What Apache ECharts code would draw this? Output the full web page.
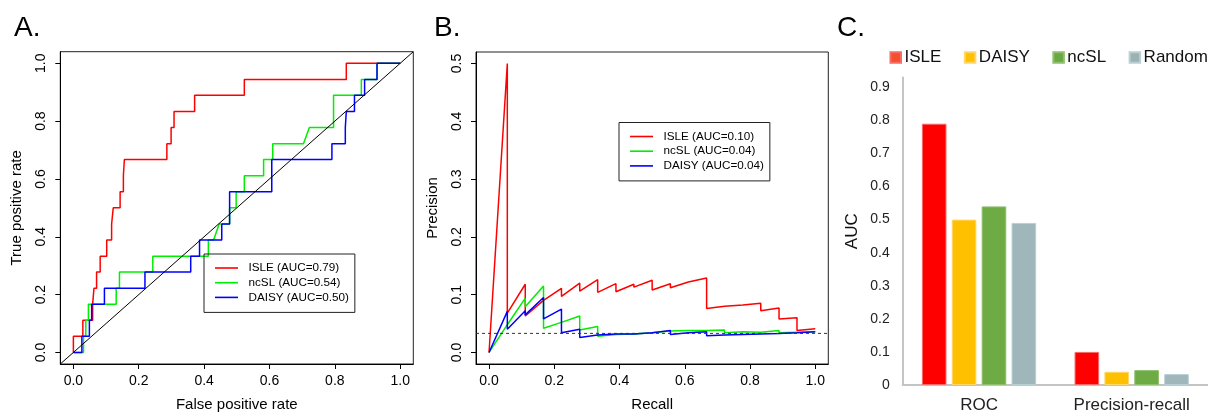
<!DOCTYPE html>
<html><head><meta charset="utf-8">
<script src="https://cdn.jsdelivr.net/npm/echarts@6/dist/echarts.min.js"></script>
<style>html,body{margin:0;padding:0;background:#fff}#c{width:1208px;height:417px}</style>
</head><body><div id="c"></div>
<script>
const FONT = '"Liberation Sans", Arial, Helvetica, sans-serif';

// ---- Panel A: ROC curve vertices (false positive rate, true positive rate)
const rocIsleFpr = [0,0,0.029,0.029,0.059,0.059,0.063,0.063,0.071,0.071,0.082,0.082,0.102,0.102,0.117,0.117,0.122,0.122,0.143,0.143,0.153,0.153,0.156,0.156,0.286,0.286,0.299,0.299,0.308,0.308,0.371,0.371,0.523,0.523,0.835,0.835,1];
const rocIsleTpr = [0,0.056,0.056,0.111,0.111,0.167,0.167,0.222,0.222,0.278,0.278,0.333,0.333,0.389,0.389,0.444,0.444,0.5,0.5,0.556,0.556,0.611,0.611,0.667,0.667,0.722,0.722,0.778,0.778,0.833,0.833,0.889,0.889,0.944,0.944,1,1];
const rocNcslFpr = [0,0.031,0.031,0.038,0.038,0.046,0.046,0.131,0.131,0.141,0.141,0.243,0.243,0.413,0.413,0.429,0.446,0.478,0.478,0.498,0.498,0.523,0.523,0.582,0.582,0.610,0.610,0.704,0.722,0.796,0.796,0.881,0.881,0.929,0.929,1];
const rocNcslTpr = [0,0,0.056,0.056,0.111,0.111,0.167,0.167,0.222,0.222,0.278,0.278,0.333,0.333,0.389,0.389,0.444,0.444,0.5,0.5,0.556,0.556,0.611,0.611,0.667,0.667,0.722,0.722,0.778,0.778,0.889,0.889,0.944,0.944,1,1];
const rocDaisyFpr = [0,0.026,0.026,0.049,0.049,0.056,0.056,0.095,0.095,0.219,0.219,0.359,0.359,0.386,0.386,0.454,0.454,0.478,0.478,0.607,0.607,0.791,0.791,0.832,0.832,0.835,0.835,0.860,0.860,0.891,0.891,0.929,0.929,1];
const rocDaisyTpr = [0,0,0.056,0.056,0.111,0.111,0.167,0.167,0.222,0.222,0.278,0.278,0.333,0.333,0.389,0.389,0.444,0.444,0.556,0.556,0.667,0.667,0.722,0.722,0.778,0.778,0.833,0.833,0.889,0.889,0.944,0.944,1,1];
const rocChance = [-0.04, 1.04];
const rocNames = ['ISLE (AUC=0.79)', 'ncSL (AUC=0.54)', 'DAISY (AUC=0.50)'];

// ---- Panel B: precision-recall vertices (recall, precision)
const prIsleRec = [0,0.056,0.056,0.111,0.111,0.167,0.222,0.222,0.278,0.278,0.333,0.333,0.389,0.389,0.444,0.444,0.5,0.5,0.556,0.556,0.611,0.611,0.667,0.667,0.722,0.722,0.778,0.778,0.833,0.833,0.889,0.889,0.944,0.944,1];
const prIslePrec = [0,0.5,0.068,0.118,0.063,0.090,0.111,0.097,0.120,0.106,0.126,0.104,0.119,0.105,0.118,0.113,0.125,0.108,0.119,0.112,0.122,0.119,0.129,0.076,0.080,0.078,0.082,0.080,0.085,0.072,0.077,0.058,0.060,0.038,0.041];
const prNcslRec = [0,0.056,0.111,0.111,0.167,0.167,0.222,0.278,0.278,0.333,0.333,0.389,0.444,0.5,0.556,0.556,0.611,0.611,0.667,0.667,0.722,0.722,0.778,0.778,0.833,0.889,0.889,0.944,1];
const prNcslPrec = [0,0.048,0.094,0.079,0.115,0.042,0.052,0.063,0.039,0.045,0.028,0.031,0.032,0.034,0.037,0.035,0.038,0.036,0.038,0.036,0.039,0.034,0.036,0.034,0.035,0.038,0.034,0.035,0.036];
const prDaisyRec = [0,0.056,0.056,0.111,0.111,0.167,0.167,0.222,0.222,0.278,0.278,0.333,0.333,0.389,0.389,0.444,0.5,0.556,0.556,0.611,0.667,0.667,0.722,0.778,0.833,0.889,0.944,1];
const prDaisyPrec = [0,0.071,0.040,0.072,0.065,0.095,0.058,0.075,0.034,0.040,0.026,0.030,0.028,0.032,0.029,0.032,0.034,0.038,0.031,0.034,0.036,0.029,0.030,0.031,0.032,0.033,0.034,0.036];
const prBaseline = 0.033;
const prNames = ['ISLE (AUC=0.10)', 'ncSL (AUC=0.04)', 'DAISY (AUC=0.04)'];

// ---- Panel C: AUC bars
const aucCategories = ['ROC', 'Precision-recall'];
const aucIsle = [0.79, 0.10];
const aucDaisy = [0.50, 0.04];
const aucNcsl = [0.54, 0.045];
const aucRandom = [0.49, 0.033];
const aucTicks = [0, 0.1, 0.2, 0.3, 0.4, 0.5, 0.6, 0.7, 0.8, 0.9];
const unitTicks = [0, 0.2, 0.4, 0.6, 0.8, 1.0];
const precTicks = [0, 0.1, 0.2, 0.3, 0.4, 0.5];

const pairs = (xs, ys) => xs.map((x, i) => [x, ys[i]]);

const tickLabel = { fontFamily: FONT, fontSize: 14, color: '#000' };
function rAxisX(grid, name, ticks) {
  return {
    type: 'value', gridIndex: grid, min: -0.04, max: 1.04,
    name: name, nameLocation: 'middle', nameGap: 33,
    nameTextStyle: { fontFamily: FONT, fontSize: 15, color: '#000' },
    axisLine: { show: true, onZero: false, lineStyle: { color: '#000', width: 1 } },
    axisTick: { show: true, length: 5, customValues: ticks, lineStyle: { color: '#000' } },
    axisLabel: Object.assign({ customValues: ticks, margin: 10, formatter: v => v.toFixed(1) }, tickLabel),
    splitLine: { show: false }
  };
}
function rAxisY(grid, name, min, max, ticks, gap) {
  return {
    type: 'value', gridIndex: grid, min: min, max: max,
    name: name, nameLocation: 'middle', nameGap: gap, nameRotate: 90,
    nameTextStyle: { fontFamily: FONT, fontSize: 15, color: '#000' },
    axisLine: { show: true, onZero: false, lineStyle: { color: '#000', width: 1 } },
    axisTick: { show: true, length: 5, customValues: ticks, lineStyle: { color: '#000' } },
    axisLabel: Object.assign({ customValues: ticks, margin: 12, rotate: 90, formatter: v => v.toFixed(1) }, tickLabel),
    splitLine: { show: false }
  };
}
function curve(name, xi, yi, data, color) {
  return { name: name, type: 'line', xAxisIndex: xi, yAxisIndex: yi, data: data,
    symbol: 'none', clip: true, lineStyle: { color: color, width: 1.5 }, itemStyle: { color: color } };
}
function rLegend(left, top, names) {
  return {
    left: left, top: top, orient: 'vertical', data: names, selectedMode: false,
    borderColor: '#222', borderWidth: 1, padding: [8, 6, 9, 11],
    icon: 'rect', itemWidth: 23, itemHeight: 1.6, itemGap: 2.7,
    textStyle: { fontFamily: FONT, fontSize: 11.7, color: '#000', lineHeight: 12, padding: [0, 0, 0, 5.5] }
  };
}
const barColors = { ISLE: '#ff0000', DAISY: '#ffc000', ncSL: '#6fab45', Random: '#9fb7bb' };
const barBorders = { ISLE: '#f86a6a', DAISY: '#ffd66a', ncSL: '#8dbf6c', Random: '#b7d0d6' };
function bar(name, values) {
  return { name: name, type: 'bar', xAxisIndex: 2, yAxisIndex: 2, data: values,
    barWidth: 24.6, barGap: '21.5%',
    itemStyle: { color: barColors[name], borderColor: barBorders[name], borderWidth: 1 } };
}

const option = {
  animation: false,
  backgroundColor: '#fff',
  title: [
    { text: 'A.', left: 9, top: 9, textStyle: { fontFamily: FONT, fontSize: 28, fontWeight: 'normal', color: '#000' } },
    { text: 'B.', left: 429, top: 9, textStyle: { fontFamily: FONT, fontSize: 28, fontWeight: 'normal', color: '#000' } },
    { text: 'C.', left: 832, top: 9, textStyle: { fontFamily: FONT, fontSize: 28, fontWeight: 'normal', color: '#000' } }
  ],
  legend: [
    rLegend(204, 254, rocNames),
    rLegend(619, 122.5, prNames),
    {
      left: 889.5, top: 49, data: [
        { name: 'ISLE', itemStyle: { color: '#f2502a' } },
        { name: 'DAISY', itemStyle: { color: '#ffc000' } },
        { name: 'ncSL', itemStyle: { color: '#6aa843' } },
        { name: 'Random', itemStyle: { color: '#9fb0b0' } }
      ],
      selectedMode: false, icon: 'rect', itemWidth: 10.5, itemHeight: 10.5, itemGap: 22.5, padding: 0,
      textStyle: { fontFamily: FONT, fontSize: 17, color: '#111', padding: [0, 0, 0, -1.5] }
    }
  ],
  grid: [
    { left: 60.3, top: 51.7, width: 353, height: 316.6, show: true, borderColor: '#222', borderWidth: 1, backgroundColor: 'transparent' },
    { left: 476, top: 52, width: 352.3, height: 316.3, show: true, borderColor: '#222', borderWidth: 1, backgroundColor: 'transparent' },
    { left: 902.7, top: 77.4, width: 310, height: 307.6 }
  ],
  xAxis: [
    rAxisX(0, 'False positive rate', unitTicks),
    rAxisX(1, 'Recall', unitTicks),
    {
      type: 'category', gridIndex: 2, data: aucCategories,
      axisLine: { show: true, lineStyle: { color: '#c4c4c4', width: 2 } },
      axisTick: { show: false },
      axisLabel: { fontFamily: FONT, fontSize: 17, color: '#222', margin: 12 }
    }
  ],
  yAxis: [
    rAxisY(0, 'True positive rate', -0.04, 1.04, unitTicks, 35.5),
    rAxisY(1, 'Precision', -0.02, 0.52, precTicks, 36),
    {
      type: 'value', gridIndex: 2, min: 0, max: 0.93,
      name: 'AUC', nameLocation: 'middle', nameGap: 42, nameRotate: 90,
      nameTextStyle: { fontFamily: FONT, fontSize: 17, color: '#111' },
      axisLine: { show: true, lineStyle: { color: '#c4c4c4', width: 2 } },
      axisTick: { show: false },
      splitLine: { show: false },
      axisLabel: { customValues: aucTicks, fontFamily: FONT, fontSize: 14, color: '#222', margin: 13,
        formatter: v => (v === 0 ? '0' : v.toFixed(1)) }
    }
  ],
  series: [
    curve(rocNames[0], 0, 0, pairs(rocIsleFpr, rocIsleTpr), '#ff0000'),
    curve(rocNames[1], 0, 0, pairs(rocNcslFpr, rocNcslTpr), '#00ee00'),
    curve(rocNames[2], 0, 0, pairs(rocDaisyFpr, rocDaisyTpr), '#0000ff'),
    { type: 'line', xAxisIndex: 0, yAxisIndex: 0, data: pairs(rocChance, rocChance), symbol: 'none',
      lineStyle: { color: '#000', width: 1 }, silent: true },
    curve(prNames[0], 1, 1, pairs(prIsleRec, prIslePrec), '#ff0000'),
    curve(prNames[1], 1, 1, pairs(prNcslRec, prNcslPrec), '#00ee00'),
    curve(prNames[2], 1, 1, pairs(prDaisyRec, prDaisyPrec), '#0000ff'),
    { type: 'line', xAxisIndex: 1, yAxisIndex: 1, data: [[-0.04, prBaseline], [1.04, prBaseline]], symbol: 'none',
      lineStyle: { color: '#333', width: 1, type: [3, 3] }, silent: true },
    bar('ISLE', aucIsle),
    bar('DAISY', aucDaisy),
    bar('ncSL', aucNcsl),
    bar('Random', aucRandom)
  ]
};
const chart = echarts.init(document.getElementById('c'), null, { renderer: 'canvas' });
chart.setOption(option);
</script>
</body></html>
